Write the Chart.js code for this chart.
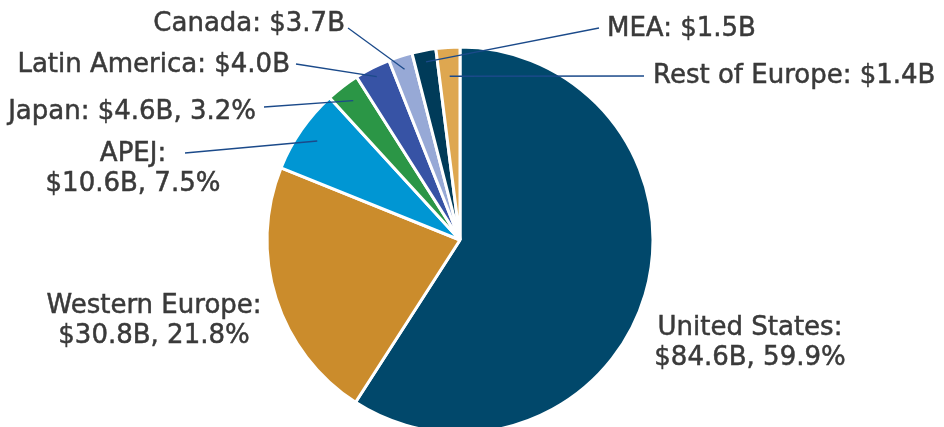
<!DOCTYPE html>
<html>
<head>
<meta charset="utf-8">
<title>Revenue by region</title>
<script src="https://cdn.jsdelivr.net/npm/chart.js@4/dist/chart.umd.min.js"></script>
<style>
    html, body { margin: 0; padding: 0; background: #ffffff; }
    #pieChart { display: block; }
</style>
</head>
<body>
<canvas id="pieChart" width="944" height="427"></canvas>
<script>
    'use strict'

    // regions, clockwise from 12 o'clock
    var regions = ['United States', 'Western Europe', 'APEJ', 'Japan', 'Latin America', 'Canada', 'MEA', 'Rest of Europe'];
    // $ billions, as written on the labels
    var amounts = [84.6, 30.8, 10.6, 4.6, 4.0, 3.7, 1.5, 1.4];
    // percent shown on the label (null = not shown)
    var percents = [59.9, 21.8, 7.5, 3.2, null, null, null, null];
    // share of the circle as the slices are drawn in the picture (small ones are widened)
    var sliceShares = [59.1, 22.0, 7.1, 2.8, 3.0, 2.0, 2.0, 2.0];

    var sliceColors = ['#01486b', '#cb8c2c', '#0096d3', '#2b9646', '#3753a5', '#97a9d6', '#003b59', '#dea750'];

    // where each label sits; "from" is the outer end of the leader line, depth is how far into the slice it goes
    var labelLayout = [
        { x: 750, y: 335, align: 'center', split: true },
        { x: 154, y: 313, align: 'center', split: true },
        { x: 133, y: 161, align: 'center', split: true, from: [185, 153], depth: 0.90 },
        { x: 256, y: 119, align: 'right', from: [264, 107], depth: 0.91 },
        { x: 290, y: 72, align: 'right', from: [296, 64], depth: 0.95 },
        { x: 345, y: 31, align: 'right', from: [348, 28], depth: 0.93 },
        { x: 607, y: 36, align: 'left', from: [599, 28], depth: 0.94 },
        { x: 653, y: 83, align: 'left', from: [644, 76], depth: 0.85 }
    ];

    function labelLines(i) {
        var money = '$' + amounts[i].toFixed(1) + 'B';
        var tail = percents[i] === null ? money : money + ', ' + percents[i].toFixed(1) + '%';
        if (labelLayout[i].split) {
            return [regions[i] + ':', tail];
        }
        return [regions[i] + ': ' + tail];
    }

    var calloutPlugin = {
        id: 'callouts',
        afterDraw: function (chart) {
            var ctx = chart.ctx;
            var arcs = chart.getDatasetMeta(0).data;
            ctx.save();

            // leader lines
            ctx.strokeStyle = '#1b4a8a';
            ctx.lineWidth = 1.3;
            labelLayout.forEach(function (lay, i) {
                if (!lay.from) return;
                var arc = arcs[i];
                var mid = (arc.startAngle + arc.endAngle) / 2;
                var r = arc.outerRadius * lay.depth;
                ctx.beginPath();
                ctx.moveTo(lay.from[0], lay.from[1]);
                ctx.lineTo(arc.x + Math.cos(mid) * r, arc.y + Math.sin(mid) * r);
                ctx.stroke();
            });

            // texts (thin stroke to get closer to the medium weight of the original)
            ctx.fillStyle = '#3a3a3a';
            ctx.strokeStyle = '#3a3a3a';
            ctx.lineWidth = 0.5;
            ctx.font = '26px "DejaVu Sans"';
            ctx.textBaseline = 'alphabetic';
            labelLayout.forEach(function (lay, i) {
                ctx.textAlign = lay.align;
                labelLines(i).forEach(function (line, k) {
                    ctx.fillText(line, lay.x, lay.y + k * 29.5);
                    ctx.strokeText(line, lay.x, lay.y + k * 29.5);
                });
            });
            ctx.restore();
        }
    };

    var ctx = document.getElementById('pieChart');
    var chart = new Chart(ctx, {
        type: 'pie',
        data: {
            labels: regions,
            datasets: [{
                data: sliceShares,
                backgroundColor: sliceColors,
                borderColor: '#ffffff',
                borderWidth: 3
            }]
        },
        options: {
            responsive: false,
            animation: false,
            radius: 193,
            layout: {
                padding: { left: 0, right: 24, top: 53, bottom: 0 }
            },
            plugins: {
                legend: { display: false },
                tooltip: { enabled: false }
            }
        },
        plugins: [calloutPlugin]
    });
</script>
</body>
</html>
